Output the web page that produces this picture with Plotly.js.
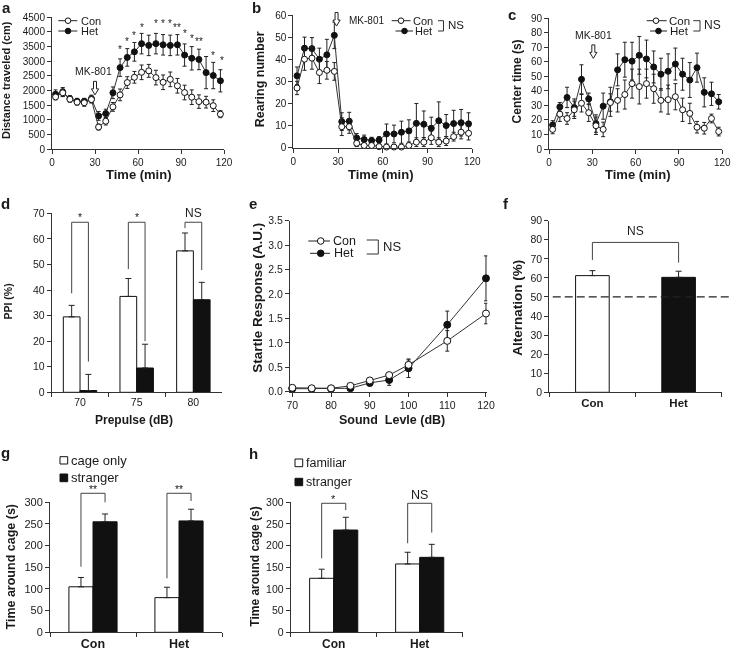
<!DOCTYPE html>
<html><head><meta charset="utf-8">
<script src="https://cdn.plot.ly/plotly-3.0.1.min.js"></script>
<style>html,body{margin:0;padding:0;background:#fff}#chart{width:731px;height:652px;filter:grayscale(100%)}</style>
</head><body><div id="chart"></div>
<script>
// ---------------- DATA ----------------
const groupNames = ['Con', 'Het'];
const timeMin = [2.5,7.5,12.5,17.5,22.5,27.5,32.5,37.5,42.5,47.5,52.5,57.5,62.5,67.5,72.5,77.5,82.5,87.5,92.5,97.5,102.5,107.5,112.5,117.5];
const timeTicks = [0,30,60,90,120];

// a: distance traveled
const distCon    = [1780,1920,1700,1600,1580,1690,750,950,1440,1850,2270,2450,2620,2670,2440,2280,2380,2160,1930,1770,1620,1600,1480,1190];
const distConErr = [100,130,100,100,120,120,100,130,150,200,200,200,250,220,250,250,250,250,250,250,230,200,200,120];
const distHet    = [1870,1950,1720,1630,1630,1720,1130,1210,1920,2780,3130,3320,3600,3540,3600,3560,3540,3560,3210,3100,3060,2610,2510,2330];
const distHetErr = [150,150,100,100,100,120,150,150,200,300,300,320,350,350,350,350,350,350,380,400,350,550,450,380];
const distStarTimes  = [47.5,52.5,57.5,62.5,72.5,77.5,82.5,87.5,92.5,97.5,102.5,112.5,118.5];
const distStarLevels = [3480,3740,3960,4220,4360,4360,4360,4220,4020,3860,3740,3260,3090];
const distStarLabels = ['*','*','*','*','*','*','*','**','*','*','**','*','*'];

// b: rearing number
const rearCon    = [27,40,40.5,34,35,34.5,9.5,9.5,2,1,1,0.5,0.3,0.3,0.3,1,2.5,2.5,4.5,2.5,3,5,7,6.5];
const rearConErr = [3,5,5,5,4,4,4,3,1.5,1,1,1,0.5,0.5,0.5,1,2,2,3,2,2,2,3,3];
const rearHet    = [32.5,45,44.8,40,42,50.8,11.8,12,4.4,3.7,3.2,3.5,6.2,6.2,7,7.6,11,10.6,8.8,12.2,10,10.9,11.3,10.8];
const rearHetErr = [4,5,5,5,7,6,4,4,2,2,1.5,1.5,4.5,4,5,5,9,6,5,8.5,5,6,6,5];

// c: center time
const centerCon    = [13.5,24,21,27,31.5,25,16,13.5,32,33.5,37.5,45,43,45,41.5,33.5,34,36,27,24.5,15,14.3,21,12];
const centerConErr = [3,5,4,6,6,6,6,5,6,8,10,10,12,10,10,8,10,9,8,7,4,4,3,3];
const centerHet    = [16.5,29,35.5,28.5,48,34.5,17.5,29.5,32.5,54.5,61.5,60.5,64.5,62,56.5,51.5,53.5,58.5,51.5,47.5,56,39,38,32.5];
const centerHetErr = [3,3,7,6,10,4,6,9,10,11,12,13,13,13,11,11,12,11,11,12,10,10,8,5];

// d: PPI
const prepulseLabels = ['70','75','80'];
const ppiCon    = [29.5,37.5,55.3];
const ppiConErr = [4.5,7,7];
const ppiHet    = [0.7,9.5,36.2];
const ppiHetErr = [6.3,9.3,6.8];
const ppiBracketLeft  = [38.7,48.2,64.2];
const ppiBracketRight = [12,20,47.8];
const ppiBracketTop   = [66.5,66.5,66.5];
const ppiSigLabels    = ['*','*','NS'];
const ppiSigLevels    = [69.5,69.5,70];

// e: startle
const soundLevels = [70,75,80,85,90,95,100,110,120];
const startleCon    = [0.08,0.07,0.07,0.12,0.23,0.34,0.55,1.04,1.6];
const startleConErr = [0.03,0.02,0.02,0.03,0.04,0.05,0.1,0.21,0.21];
const startleHet    = [0.06,0.06,0.06,0.07,0.18,0.24,0.48,1.37,2.32];
const startleHetErr = [0.03,0.02,0.02,0.03,0.06,0.11,0.19,0.28,0.46];

// f: alternation
const alternValues = [61.2,60.3];
const alternErr    = [2.6,3.2];
const chanceLevel  = 50;
const alternBracket = {left: 69.4, right: 68, top: 78.6, label: 'NS', level: 84.8};

// g: sociability
const socialLegend = ['cage only','stranger'];
const cageOnly     = [105,80];
const cageOnlyErr  = [21.5,24];
const strangerG    = [255,257];
const strangerGErr = [18,27];
const gBracketLeft  = [151.5,124.6];
const gBracketRight = [300,303];
const gBracketTop   = [320.8,320.8];
const gSigLabels    = ['**','**'];
const gSigLevels    = [336,336];

// h: social novelty
const noveltyLegend = ['familiar','stranger'];
const familiarH     = [124.6,157.7];
const familiarHErr  = [21,27];
const strangerH     = [236,173];
const strangerHErr  = [29.4,30];
const hBracketLeft  = [170.8,205.4];
const hBracketRight = [282,230];
const hBracketTop   = [297.7,297.7];
const hSigLabels    = ['*','NS'];
const hSigLevels    = [311.5,317];

// ---------------- LAYOUT HELPERS ----------------
const W = 731, H = 652;
const FONT = 'Liberation Sans, Arial, Helvetica, sans-serif';
const TXT = '#1a1a1a', AX = '#333';

const P = {
  a: {n:'',  xd:[52,224],     yd:[149,17.3],   xr:[0,120],      yr:[0,4500]},
  b: {n:'2', xd:[293.3,472.3],yd:[147.7,15],   xr:[0,120],      yr:[0,60]},
  c: {n:'3', xd:[549,722.3],  yd:[149,18.3],   xr:[0,120],      yr:[0,90]},
  d: {n:'4', xd:[51.7,221.7], yd:[392.3,213.3],xr:[-0.5,2.5],   yr:[0,70]},
  e: {n:'5', xd:[290,487.3],  yd:[391.7,220.7],xr:[69.4,120.34],yr:[0,3.5]},
  f: {n:'6', xd:[549.3,721.7],yd:[392.3,220.7],xr:[-0.5,1.5],   yr:[0,90]},
  g: {n:'7', xd:[50,222],     yd:[632.3,502.3],xr:[-0.5,1.5],   yr:[0,300]},
  h: {n:'8', xd:[290.7,462.7],yd:[632.3,502.3],xr:[-0.5,1.5],   yr:[0,300]}
};
function DX(p, v){ return p.xd[0] + (v - p.xr[0]) / (p.xr[1] - p.xr[0]) * (p.xd[1] - p.xd[0]); }
function DY(p, v){ return p.yd[0] + (v - p.yr[0]) / (p.yr[1] - p.yr[0]) * (p.yd[1] - p.yd[0]); }

const shapes = [], annotations = [];
function ann(xpx, ypx, text, size, o) {
  o = o || {};
  annotations.push({
    xref:'paper', yref:'paper', x:xpx / W, y:1 - ypx / H, text:text, showarrow:false,
    xanchor:o.xanchor || 'center', yanchor:'middle', textangle:o.angle || 0,
    yshift:o.yshift || 0, borderpad:0,
    font:{family:FONT, size:size, color:TXT, weight:o.bold ? 'bold' : 'normal'}
  });
}
function sig(p, xv, yv, label, size) {
  const isStar = label.indexOf('*') >= 0;
  ann(DX(p, xv), DY(p, yv), label, size, {yshift: isStar ? -2 : 0});
}
function bracket(p, xL, xR, yL, yT, yR) {
  const X = v => DX(p, v) / W, Y = v => 1 - DY(p, v) / H;
  shapes.push({type:'path', xref:'paper', yref:'paper',
    path:'M' + X(xL) + ',' + Y(yL) + ' L' + X(xL) + ',' + Y(yT) + ' L' + X(xR) + ',' + Y(yT) + ' L' + X(xR) + ',' + Y(yR),
    line:{color:'#444', width:1}, fillcolor:'rgba(0,0,0,0)'});
}
function lineSeg(x0, y0, x1, y1, o) {
  o = o || {};
  shapes.push({type:'line', xref:'paper', yref:'paper', x0:x0 / W, y0:1 - y0 / H, x1:x1 / W, y1:1 - y1 / H,
    line:{color:o.color || '#333', width:o.width || 1, dash:o.dash || 'solid'}});
}
function dot(xpx, ypx, r, filled) {
  shapes.push({type:'circle', xref:'paper', yref:'paper', xsizemode:'pixel', ysizemode:'pixel',
    xanchor:xpx / W, yanchor:1 - ypx / H, x0:-r, x1:r, y0:-r, y1:r,
    fillcolor: filled ? '#111' : '#fff', line:{color:'#111', width:1}});
}
function square(x0, y0, x1, y1, filled) {
  shapes.push({type:'rect', xref:'paper', yref:'paper', x0:x0 / W, x1:x1 / W, y0:1 - y0 / H, y1:1 - y1 / H,
    fillcolor: filled ? '#111' : '#fff', line:{color:'#111', width:1}});
}
function arrowDown(xpx, ypx) {
  shapes.push({type:'path', xref:'paper', yref:'paper', xsizemode:'pixel', ysizemode:'pixel',
    xanchor:xpx / W, yanchor:1 - ypx / H,
    path:'M0,0 L3.6,6 L1.5,6 L1.5,13.5 L-1.5,13.5 L-1.5,6 L-3.6,6 Z',
    fillcolor:'#fff', line:{color:'#222', width:1}});
}
function legendRow(xl, xr, xc, y, r, filled, label, tx, size) {
  lineSeg(xl, y, xr, y, {color:'#222'});
  dot(xc, y, r, filled);
  ann(tx, y, label, size, {xanchor:'left'});
}
function nsBracket(xl, xr, yt, yb, tx, size) {
  shapes.push({type:'path', xref:'paper', yref:'paper',
    path:'M' + xl / W + ',' + (1 - yt / H) + ' L' + xr / W + ',' + (1 - yt / H) + ' L' + xr / W + ',' + (1 - yb / H) + ' L' + xl / W + ',' + (1 - yb / H),
    line:{color:'#333', width:1}, fillcolor:'rgba(0,0,0,0)'});
  ann(tx, (yt + yb) / 2 - 1, 'NS', size, {xanchor:'left'});
}

// ---------------- AXES ----------------
const layout = {
  width:W, height:H, margin:{l:0, r:0, t:0, b:0}, paper_bgcolor:'#fff', plot_bgcolor:'rgba(0,0,0,0)',
  showlegend:false, barmode:'overlay', font:{family:FONT, color:TXT},
  shapes:shapes, annotations:annotations
};
function axes(key, xo, yo) {
  const p = P[key];
  const base = {showline:true, linecolor:AX, linewidth:1, ticks:'outside', ticklen:4, tickwidth:1, tickcolor:AX,
    showgrid:false, zeroline:false, fixedrange:true, ticklabeloverflow:'allow'};
  layout['xaxis' + p.n] = Object.assign({}, base, {domain:[p.xd[0] / W, p.xd[1] / W], range:p.xr,
    anchor:'y' + p.n}, xo);
  layout['yaxis' + p.n] = Object.assign({}, base, {domain:[1 - p.yd[0] / H, 1 - p.yd[1] / H], range:p.yr,
    anchor:'x' + p.n}, yo);
}
const tf = (s, b) => ({family:FONT, size:s, color:TXT, weight:b ? 'bold' : 'normal'});
axes('a', {tickvals:timeTicks, tickfont:tf(10)}, {dtick:500, tick0:0, tickfont:tf(10)});
axes('b', {tickvals:timeTicks, tickfont:tf(10)}, {dtick:10, tick0:0, tickfont:tf(10)});
axes('c', {tickvals:timeTicks, tickfont:tf(10)}, {dtick:10, tick0:0, tickfont:tf(10)});
axes('d', {type:'category', tickson:'boundaries', tickfont:tf(10.5)}, {dtick:10, tick0:0, tickfont:tf(10.5)});
axes('e', {dtick:10, tick0:70, tickfont:tf(10.5)}, {dtick:0.5, tick0:0, tickformat:'.1f', tickfont:tf(10.5)});
axes('f', {type:'category', tickson:'boundaries', tickfont:tf(11.5, true)}, {dtick:10, tick0:0, tickfont:tf(10.5)});
axes('g', {type:'category', tickson:'boundaries', tickfont:tf(12.5, true)}, {dtick:50, tick0:0, tickfont:tf(11)});
axes('h', {type:'category', tickson:'boundaries', tickfont:tf(12, true)}, {dtick:50, tick0:0, tickfont:tf(10.5)});

// ---------------- TRACES ----------------
const traces = [];
function lineTrace(key, x, y, err, filled, size, name) {
  const p = P[key];
  traces.push({type:'scatter', mode:'lines+markers', name:name, x:x, y:y, xaxis:'x' + p.n, yaxis:'y' + p.n,
    line:{color:'#333', width:1},
    marker:{symbol:'circle', size:size, color: filled ? '#111' : '#fff', line:{color:'#111', width:1}},
    error_y:{type:'data', array:err, visible:true, color:'#222', thickness:1, width:2},
    cliponaxis:false, showlegend:false, hoverinfo:'skip'});
}
function barTrace(key, x, y, err, filled, width, offset, name) {
  const p = P[key];
  traces.push({type:'bar', name:name, x:x, y:y, xaxis:'x' + p.n, yaxis:'y' + p.n, width:width, offset:offset,
    marker:{color: filled, line:{color:'#111', width:1}},
    error_y:{type:'data', symmetric:false, array:err, arrayminus:err.map(() => 0), visible:true,
      color:'#222', thickness:1, width:3},
    showlegend:false, hoverinfo:'skip'});
}
lineTrace('a', timeMin, distHet, distHetErr, true, 6, groupNames[1]);
lineTrace('a', timeMin, distCon, distConErr, false, 6, groupNames[0]);
lineTrace('b', timeMin, rearHet, rearHetErr, true, 6, groupNames[1]);
lineTrace('b', timeMin, rearCon, rearConErr, false, 6, groupNames[0]);
lineTrace('c', timeMin, centerHet, centerHetErr, true, 6, groupNames[1]);
lineTrace('c', timeMin, centerCon, centerConErr, false, 6, groupNames[0]);
lineTrace('e', soundLevels, startleHet, startleHetErr, true, 7, groupNames[1]);
lineTrace('e', soundLevels, startleCon, startleConErr, false, 7, groupNames[0]);

const wD = 0.295, wG = 0.28;
barTrace('d', prepulseLabels, ppiCon, ppiConErr, '#fff', wD, -wD, groupNames[0]);
barTrace('d', prepulseLabels, ppiHet, ppiHetErr, '#111', wD, 0, groupNames[1]);
barTrace('f', groupNames, alternValues, alternErr, ['#fff', '#111'], 0.39, -0.195, 'Alternation');
barTrace('g', groupNames, cageOnly, cageOnlyErr, '#fff', wG, -wG, socialLegend[0]);
barTrace('g', groupNames, strangerG, strangerGErr, '#111', wG, 0, socialLegend[1]);
barTrace('h', groupNames, familiarH, familiarHErr, '#fff', wG, -wG, noveltyLegend[0]);
barTrace('h', groupNames, strangerH, strangerHErr, '#111', wG, 0, noveltyLegend[1]);

// ---------------- DECORATIONS ----------------
// panel labels
ann(6, 7, 'a', 15, {bold:true});
ann(256, 7.5, 'b', 15, {bold:true});
ann(512, 14.8, 'c', 15, {bold:true});
ann(5.8, 203.8, 'd', 15, {bold:true});
ann(252.5, 203.8, 'e', 15, {bold:true});
ann(505.5, 203.8, 'f', 15, {bold:true});
ann(5.5, 452.5, 'g', 15, {bold:true});
ann(253.5, 453.8, 'h', 15, {bold:true});

// axis titles
ann(138.5, 174.5, 'Time (min)', 13, {bold:true});
ann(6.7, 80.3, 'Distance traveled (cm)', 11, {bold:true, angle:-90});
ann(381, 174.5, 'Time (min)', 13, {bold:true});
ann(260, 79.2, 'Rearing number', 12.5, {bold:true, angle:-90});
ann(638, 174.5, 'Time (min)', 13, {bold:true});
ann(516.7, 81.7, 'Center time (s)', 12, {bold:true, angle:-90});
ann(134, 420, 'Prepulse (dB)', 12, {bold:true});
ann(7.5, 302, 'PPI (%)', 10.5, {bold:true, angle:-90});
ann(391.7, 420, 'Sound\u00a0 Levle (dB)', 12.5, {bold:true});
ann(256.7, 298, 'Startle Response (A.U.)', 13.5, {bold:true, angle:-90});
ann(517.5, 308.3, 'Alternation (%)', 13.5, {bold:true, angle:-90});
ann(10.8, 566.7, 'Time around cage (s)', 12.5, {bold:true, angle:-90});
ann(255, 566.7, 'Time around cage (s)', 12, {bold:true, angle:-90});

// legends
legendRow(58.3, 77.3, 68, 20.7, 2.8, false, groupNames[0], 80, 11);
legendRow(58.3, 77.3, 68, 31, 2.8, true, groupNames[1], 80, 11);

legendRow(391.7, 410.5, 401, 20.7, 2.8, false, groupNames[0], 411.7, 11);
legendRow(395.5, 413, 404.5, 31, 2.8, true, groupNames[1], 414.2, 11);
nsBracket(438, 443.5, 20.7, 31, 446.7, 11.5);

legendRow(646.7, 666.7, 656, 20.7, 2.8, false, groupNames[0], 668, 11.5);
legendRow(650, 667, 658.5, 31, 2.8, true, groupNames[1], 669.3, 11.5);
nsBracket(693.3, 700, 20.7, 31, 702.7, 12);

legendRow(308.3, 330, 320.7, 241, 3.3, false, groupNames[0], 331.7, 12.5);
legendRow(310, 330, 320.7, 253.3, 3.3, true, groupNames[1], 333.3, 12.5);
nsBracket(366.7, 378.3, 240, 254, 381.7, 13);

square(60, 456.7, 67.7, 464, false); ann(70, 460.3, socialLegend[0], 13, {xanchor:'left'});
square(60, 474, 67.7, 481.7, true);  ann(70, 477.6, socialLegend[1], 13, {xanchor:'left'});
square(295, 459, 302.7, 466.7, false); ann(305, 462.7, noveltyLegend[0], 12.5, {xanchor:'left'});
square(295, 478.3, 302.7, 485.7, true); ann(305, 481.9, noveltyLegend[1], 12.5, {xanchor:'left'});

// MK-801 markers
arrowDown(DX(P.a, 30), DY(P.a, 1850)); ann(DX(P.a, 28.9), DY(P.a, 2665), 'MK-801', 10.5);
arrowDown(DX(P.b, 29), DY(P.b, 55));   ann(DX(P.b, 36.9), DY(P.b, 57.4), 'MK-801', 10, {xanchor:'left'});
arrowDown(DX(P.c, 30.7), DY(P.c, 62.4)); ann(DX(P.c, 30.7), DY(P.c, 78.4), 'MK-801', 10.5);

// a stars
distStarTimes.forEach((t, i) => sig(P.a, t, distStarLevels[i], distStarLabels[i], 10));

// d brackets
prepulseLabels.forEach((lab, i) => {
  bracket(P.d, i - wD / 2, i + wD / 2, ppiBracketLeft[i], ppiBracketTop[i], ppiBracketRight[i]);
  sig(P.d, i, ppiSigLevels[i], ppiSigLabels[i], ppiSigLabels[i] === 'NS' ? 12 : 10.5);
});

// f chance line + bracket
lineSeg(DX(P.f, -0.46), DY(P.f, chanceLevel), 730, DY(P.f, chanceLevel), {color:'#222', width:1.3, dash:'8px,4px'});
bracket(P.f, 0, 1, alternBracket.left, alternBracket.top, alternBracket.right);
sig(P.f, 0.5, alternBracket.level, alternBracket.label, 12);

// g, h brackets
groupNames.forEach((g, i) => {
  bracket(P.g, i - wG / 2, i + wG / 2, gBracketLeft[i], gBracketTop[i], gBracketRight[i]);
  sig(P.g, i, gSigLevels[i], gSigLabels[i], 10.5);
  bracket(P.h, i - wG / 2, i + wG / 2, hBracketLeft[i], hBracketTop[i], hBracketRight[i]);
  sig(P.h, i, hSigLevels[i], hSigLabels[i], hSigLabels[i] === 'NS' ? 12.5 : 11);
});

Plotly.newPlot('chart', traces, layout, {displayModeBar:false, staticPlot:true});
</script>
</body></html>
